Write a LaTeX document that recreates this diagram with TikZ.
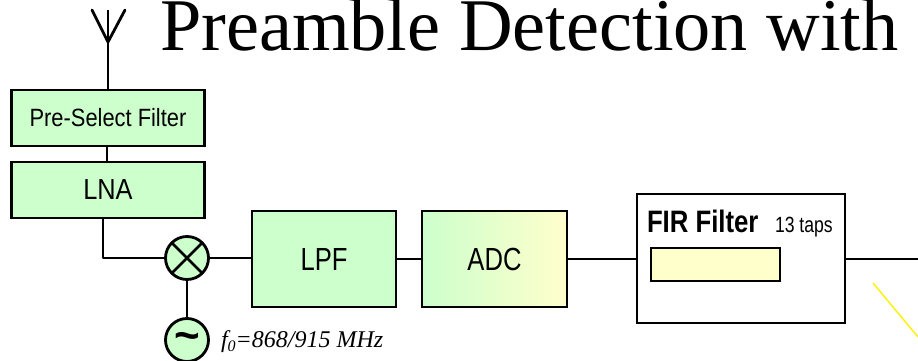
\documentclass[tikz,border=0pt]{standalone}
\usepackage{fontspec}
\setmainfont{Liberation Serif}
\setsansfont{Liberation Sans}
\newfontfamily\narrowa[FakeStretch=0.875]{Liberation Sans}
\newfontfamily\narrowb[FakeStretch=0.80]{Liberation Sans}
\newfontfamily\narrowc[FakeStretch=0.83]{Liberation Sans}
\begin{document}
\begin{tikzpicture}[x=1pt,y=-1pt,outer sep=0pt,
  wire/.style={line width=2.8pt,black},
  blockbox/.style={draw=black,line width=2.8pt,inner sep=0pt,anchor=north west},
  circ/.style={circle,draw=black,line width=2.8pt,minimum size=43pt,inner sep=0pt}]
\useasboundingbox (0,0) rectangle (918,361);
\fill[white] (0,0) rectangle (918,361);
\definecolor{gr}{RGB}{204,255,204}
\definecolor{yl}{RGB}{255,255,204}
\tikzset{blockbox/.append style={fill=gr},circ/.append style={fill=gr}}
% title
\node[anchor=base west,inner sep=0pt,font=\fontsize{74.3}{74.3}\selectfont] (title) at (160,50.5) {Preamble Detection with};
% antenna
\coordinate (anttop) at (108,10);
\coordinate (antl) at (92,10);
\coordinate (antr) at (125,10);
\coordinate (antv) at (108,42);
% blocks
\node[blockbox,minimum width=193pt,minimum height=56pt,font=\narrowa\fontsize{25}{25}\selectfont] (psf) at (11.5,90) {\raisebox{1pt}{Pre-Select Filter}};
\node[blockbox,minimum width=193pt,minimum height=56pt,font=\narrowa\fontsize{29}{29}\selectfont] (lna) at (11.5,162) {\raisebox{1pt}{LNA}};
\node[blockbox,minimum width=144pt,minimum height=96pt,font=\narrowb\fontsize{32}{32}\selectfont] (lpf) at (252,211) {LPF};
\node[draw=none,minimum width=145pt,minimum height=96pt,inner sep=0pt,anchor=north west,left color=gr,right color=yl,font=\narrowb\fontsize{32}{32}\selectfont] (adc) at (422,211) {ADC};
\draw[black,line width=2.8pt] (adc.north west) rectangle (adc.south east);
\node[draw=black,line width=2.8pt,fill=white,minimum width=208pt,minimum height=129pt,inner sep=0pt,anchor=north west] (fir) at (637,194) {};
\node[draw=black,line width=2pt,fill=yl,minimum width=129pt,minimum height=33pt,inner sep=0pt,anchor=north west] (inner) at (650.5,247.5) {};
\node[anchor=base west,inner sep=0pt,font=\narrowc\bfseries\fontsize{31}{31}\selectfont] (firlab) at (647,232) {FIR Filter};
\node[anchor=base west,inner sep=0pt,font=\narrowb\fontsize{22}{22}\selectfont] (taps) at (775,232) {13 taps};
% mixer and oscillator
\node[circ] (mix) at (187,258) {};
\node[circ] (osc) at (187,340) {};
\node[inner sep=0pt,font=\sffamily\bfseries\fontsize{44}{44}\selectfont] (tilde) at (187,341) {\char"007E};
\draw[line width=2.5pt,black] (mix.45) -- (mix.225) (mix.135) -- (mix.315);
\node[anchor=base west,inner sep=0pt,font=\itshape\fontsize{24}{24}\selectfont] (freq) at (221,347) {f\raisebox{-4pt}{\fontsize{16}{16}\selectfont 0}=868/915 MHz};
% connectors
\coordinate (outr) at (918,259);
\coordinate (elbow) at (103,258);
\coordinate (ylA) at (873,283);
\coordinate (ylB) at (918,337);
\draw[wire] (anttop) -- (psf.north -| anttop);
\draw[wire,line cap=round] (antl) -- (antv) -- (antr);
\draw[wire] (psf.south -| 107,0) -- (lna.north -| 107,0);
\draw[wire,line join=round] (lna.south -| elbow) -- (elbow) -- (mix.west);
\draw[wire] (mix.east) -- (lpf.west |- mix.east);
\draw[wire] (mix.south) -- (osc.north);
\draw[wire] (lpf.east) -- (adc.west |- lpf.east);
\draw[wire] (adc.east) -- (fir.west |- adc.east);
\draw[wire] (fir.east |- outr) -- (outr);
\draw[yellow,line width=1.4pt] (ylA) -- (ylB);
\end{tikzpicture}
\end{document}
